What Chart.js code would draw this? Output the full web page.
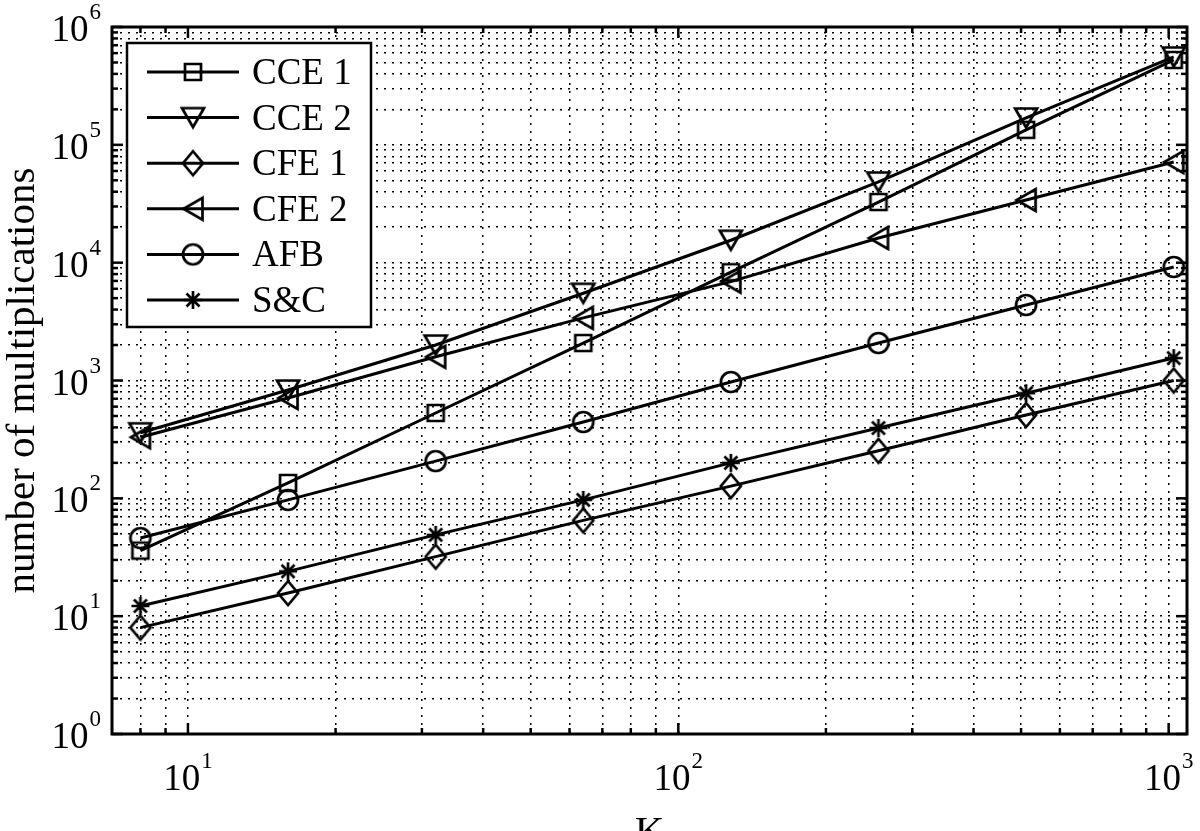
<!DOCTYPE html>
<html>
<head>
<meta charset="utf-8">
<script src="https://cdn.jsdelivr.net/npm/chart.js@4"></script>
<style>
  html, body { margin: 0; padding: 0; background: #fff; }
</style>
</head>
<body>
<canvas id="chart" width="1200" height="831"></canvas>
<script>
// values
const K = [8, 16, 32, 64, 128, 256, 512, 1024];
const cce1 = [36, 135, 530, 2080, 8300, 32700, 134000, 525000];
const cce2 = [360, 830, 2000, 5500, 15500, 48400, 169000, 557000];
const cfe1 = [8, 15.7, 32, 65, 127, 253, 510, 1000];
const cfe2 = [330, 710, 1590, 3400, 6900, 16200, 34000, 71500];
const afb = [46, 97, 207, 444, 970, 2080, 4370, 9190];
const snc = [12.2, 24, 49, 97, 200, 395, 780, 1550];

const seriesNames = ['CCE 1', 'CCE 2', 'CFE 1', 'CFE 2', 'AFB', 'S&C'];
const seriesMarkers = ['square', 'down', 'diamond', 'left', 'circle', 'star'];

const xMajor = [10, 100, 1000];
const xMajorExp = ['1', '2', '3'];
const xMinor = [8, 9, 20, 30, 40, 50, 60, 70, 80, 90, 200, 300, 400, 500, 600, 700, 800, 900];
const yMajor = [1, 10, 100, 1000, 10000, 100000, 1000000];
const yMajorExp = ['0', '1', '2', '3', '4', '5', '6'];
const yMinorMult = [2, 3, 4, 5, 6, 7, 8, 9];
const yMinor = [];
yMajor.slice(0, -1).forEach(d => yMinorMult.forEach(m => yMinor.push(d * m)));

const FONT = '"Liberation Serif", "Times New Roman", serif';

function makeMarker(kind) {
    const s = 32, m = s / 2;
    const c = document.createElement('canvas');
    c.width = s; c.height = s;
    const g = c.getContext('2d');
    g.strokeStyle = '#000';
    g.lineWidth = 2.7;
    g.lineJoin = 'miter';
    g.beginPath();
    switch (kind) {
        case 'square':
            g.rect(m - 8, m - 8, 16, 16);
            break;
        case 'down':
            g.moveTo(m - 11, m - 9.5); g.lineTo(m + 11, m - 9.5); g.lineTo(m, m + 9.5); g.closePath();
            break;
        case 'left':
            g.moveTo(m + 9.5, m - 11); g.lineTo(m + 9.5, m + 11); g.lineTo(m - 9.5, m); g.closePath();
            break;
        case 'diamond':
            g.moveTo(m, m - 12); g.lineTo(m + 10, m); g.lineTo(m, m + 12); g.lineTo(m - 10, m); g.closePath();
            break;
        case 'circle':
            g.arc(m, m, 10, 0, Math.PI * 2);
            break;
        case 'star':
            g.moveTo(m, m - 9); g.lineTo(m, m + 9);
            g.moveTo(m - 9, m); g.lineTo(m + 9, m);
            g.moveTo(m - 6.5, m - 6.5); g.lineTo(m + 6.5, m + 6.5);
            g.moveTo(m - 6.5, m + 6.5); g.lineTo(m + 6.5, m - 6.5);
            break;
    }
    g.stroke();
    return c;
}
const markerImgs = seriesMarkers.map(makeMarker);

const seriesValues = [cce1, cce2, cfe1, cfe2, afb, snc];
const datasets = seriesValues.map((vals, i) => ({
    label: seriesNames[i],
    data: K.map((k, j) => ({ x: k, y: vals[j] })),
    borderColor: '#000',
    borderWidth: 3,
    pointStyle: markerImgs[i],
    pointRadius: 10,
    fill: false,
    tension: 0,
    clip: false
}));

function drawPow(ctx, exp, x, baseline, align) {
    ctx.font = '37px ' + FONT;
    const wBase = ctx.measureText('10').width;
    ctx.font = '23px ' + FONT;
    const wExp = ctx.measureText(exp).width;
    const total = wBase + 1 + wExp;
    let left = align === 'center' ? x - total / 2 : x - total;
    ctx.textAlign = 'left';
    ctx.textBaseline = 'alphabetic';
    ctx.font = '37px ' + FONT;
    ctx.fillText('10', left, baseline);
    ctx.font = '23px ' + FONT;
    ctx.fillText(exp, left + wBase + 1, baseline - 22);
}

const matlabAxes = {
    id: 'matlabAxes',
    afterDraw(chart) {
        const { ctx, chartArea: a, scales: { x, y } } = chart;
        ctx.save();
        ctx.strokeStyle = '#000';
        ctx.fillStyle = '#000';
        ctx.lineWidth = 2.5;
        const seg = (x1, y1, x2, y2) => { ctx.beginPath(); ctx.moveTo(x1, y1); ctx.lineTo(x2, y2); ctx.stroke(); };

        // ticks, inward on all four sides
        xMajor.concat(xMinor).forEach(v => {
            const px = x.getPixelForValue(v);
            const len = xMajor.includes(v) ? 11 : 6;
            seg(px, a.bottom, px, a.bottom - len);
            seg(px, a.top, px, a.top + len);
        });
        yMajor.concat(yMinor).forEach(v => {
            const py = y.getPixelForValue(v);
            const len = yMajor.includes(v) ? 11 : 6;
            seg(a.left, py, a.left + len, py);
            seg(a.right, py, a.right - len, py);
        });

        ctx.lineWidth = 3;
        ctx.strokeRect(a.left, a.top, a.right - a.left, a.bottom - a.top);

        // tick labels
        xMajor.forEach((v, i) => drawPow(ctx, xMajorExp[i], x.getPixelForValue(v), 790, 'center'));
        yMajor.forEach((v, i) => drawPow(ctx, yMajorExp[i], 101, y.getPixelForValue(v) + 14, 'right'));

        // axis titles
        ctx.font = '41px ' + FONT;
        ctx.textAlign = 'center';
        ctx.textBaseline = 'alphabetic';
        ctx.fillText('K', (a.left + a.right) / 2, 844);
        ctx.save();
        ctx.translate(34, (a.top + a.bottom) / 2);
        ctx.rotate(-Math.PI / 2);
        ctx.fillText('number of multiplications', 0, 0);
        ctx.restore();

        // legend
        const lx = 127, ly = 43, lw = 244, lh = 284;
        ctx.fillStyle = '#fff';
        ctx.fillRect(lx, ly, lw, lh);
        ctx.lineWidth = 2.5;
        ctx.strokeRect(lx, ly, lw, lh);
        ctx.fillStyle = '#000';
        ctx.font = '37px ' + FONT;
        ctx.textAlign = 'left';
        seriesNames.forEach((name, i) => {
            const ry = 72 + i * 45.6;
            ctx.lineWidth = 3;
            seg(147, ry, 239, ry);
            const img = markerImgs[i];
            ctx.drawImage(img, 193 - img.width / 2, ry - img.height / 2);
            ctx.fillText(name, 252, ry + 12);
        });
        ctx.restore();
    }
};

new Chart(document.getElementById('chart').getContext('2d'), {
    type: 'line',
    data: { datasets },
    options: {
        responsive: false,
        animation: false,
        layout: { padding: { left: 112, top: 27, right: 5, bottom: 97 } },
        plugins: { legend: { display: false }, tooltip: { enabled: false } },
        elements: { line: { borderJoinStyle: 'miter' } },
        scales: {
            x: {
                type: 'logarithmic',
                min: 7,
                max: 1090,
                afterBuildTicks: s => { s.ticks = xMajor.concat(xMinor).sort((p, q) => p - q).map(v => ({ value: v })); },
                afterFit: s => { s.height = 0; },
                ticks: { display: false },
                grid: { color: '#000', lineWidth: 1.5, drawTicks: false },
                border: { display: false, dash: [2, 6] }
            },
            y: {
                type: 'logarithmic',
                min: 1,
                max: 1000000,
                afterBuildTicks: s => { s.ticks = yMajor.concat(yMinor).sort((p, q) => p - q).map(v => ({ value: v })); },
                afterFit: s => { s.width = 0; },
                ticks: { display: false },
                grid: { color: '#000', lineWidth: 1.5, drawTicks: false },
                border: { display: false, dash: [2, 6] }
            }
        }
    },
    plugins: [matlabAxes]
});
</script>
</body>
</html>
